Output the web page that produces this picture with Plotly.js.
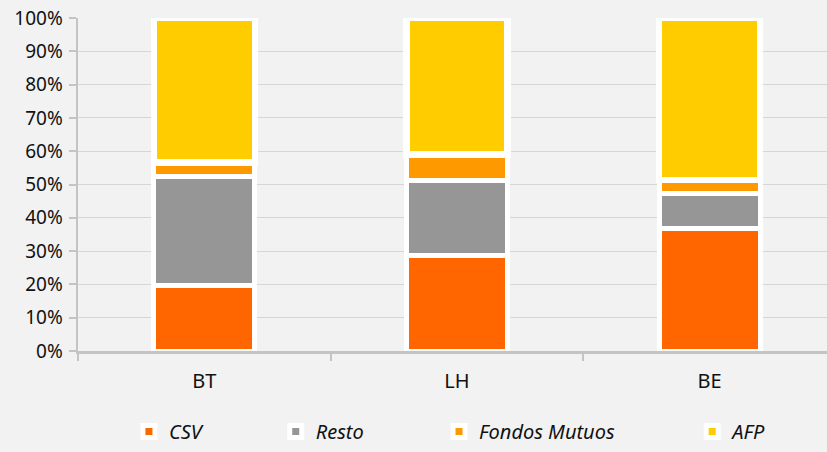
<!DOCTYPE html>
<html>
<head>
<meta charset="utf-8">
<script src="https://cdn.plot.ly/plotly-3.0.1.min.js"></script>
<style>
  html, body { margin: 0; padding: 0; background: #f2f2f2; }
  #chart { width: 827px; height: 452px; }
</style>
</head>
<body>
<div id="chart"></div>
<script>
// Share of holdings by investor type for each instrument
const categories = ['BT', 'LH', 'BE'];
const seriesNames = ['CSV', 'Resto', 'Fondos Mutuos', 'AFP'];
const csv = [0.198, 0.287, 0.368];
const resto = [0.327, 0.224, 0.104];
const fondosMutuos = [0.041, 0.079, 0.041];
const afp = [0.434, 0.410, 0.487];
const yTickValues = [0, 0.1, 0.2, 0.3, 0.4, 0.5, 0.6, 0.7, 0.8, 0.9, 1.0];

const seriesValues = [csv, resto, fondosMutuos, afp];
const colors = ['#ff6600', '#969696', '#ff9900', '#ffcc00'];
const edgeWidths = [5, 5, 5, 6.5];
const legendIds = ['legend', 'legend2', 'legend3', 'legend4'];
const legendX = [0.068, 0.264, 0.482, 0.820];

const font = 'Noto Sans, DejaVu Sans, sans-serif';

const traces = seriesNames.map((name, i) => ({
  type: 'bar',
  name: name,
  x: categories,
  y: seriesValues[i],
  width: 0.4,
  marker: { color: colors[i], line: { color: '#ffffff', width: edgeWidths[i] } },
  cliponaxis: false,
  legend: legendIds[i],
  hoverinfo: 'skip'
}));

const legendBase = (x) => ({
  orientation: 'h',
  x: x,
  xanchor: 'left',
  y: -0.300,
  yanchor: 'bottom',
  bgcolor: 'rgba(0,0,0,0)',
  font: { family: font, size: 20, color: '#111111', style: 'italic' },
  itemwidth: 30
});

const layout = {
  width: 827,
  height: 452,
  paper_bgcolor: '#f2f2f2',
  plot_bgcolor: '#f2f2f2',
  margin: { l: 78, r: 0, t: 18, b: 101, pad: 0, autoexpand: false },
  barmode: 'stack',
  bargap: 0.6,
  showlegend: true,
  font: { family: font, color: '#111111' },
  xaxis: {
    type: 'category',
    range: [-0.5, 2.465],
    showgrid: false,
    zeroline: false,
    showline: true,
    linecolor: '#c4c4c4',
    linewidth: 2.5,
    ticks: 'outside',
    tickson: 'boundaries',
    ticklen: 7,
    tickwidth: 2,
    tickcolor: '#c4c4c4',
    tickfont: { family: font, size: 20, color: '#111111' },
    ticklabelstandoff: 10,
    automargin: false,
    fixedrange: true
  },
  yaxis: {
    range: [0, 1],
    tickvals: yTickValues,
    tickformat: '.0%',
    showgrid: true,
    gridcolor: '#d6d6d6',
    gridwidth: 1,
    zeroline: false,
    showline: true,
    linecolor: '#c4c4c4',
    linewidth: 2.5,
    ticks: 'outside',
    ticklen: 7,
    tickwidth: 2,
    tickcolor: '#c4c4c4',
    tickfont: { family: font, size: 19, color: '#111111' },
    ticklabelstandoff: 2,
    automargin: false,
    fixedrange: true
  },
  legend: legendBase(legendX[0]),
  legend2: legendBase(legendX[1]),
  legend3: legendBase(legendX[2]),
  legend4: legendBase(legendX[3])
};

Plotly.newPlot('chart', traces, layout, { displayModeBar: false, staticPlot: true });
</script>
</body>
</html>
